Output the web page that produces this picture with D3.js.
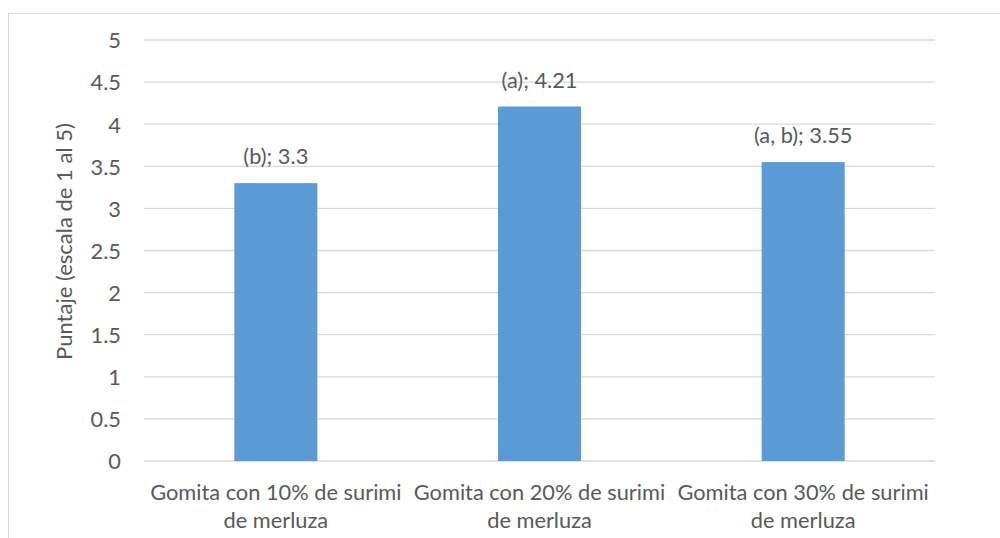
<!DOCTYPE html>
<html><head><meta charset="utf-8">
<script src="https://cdn.jsdelivr.net/npm/d3@7"></script>
<style>body{margin:0;background:#fff}svg{display:block}text{font-family:Lato,"Open Sans",sans-serif;fill:#595959}</style>
</head><body>
<script>
const categories = ["Gomita con 10% de surimi de merluza","Gomita con 20% de surimi de merluza","Gomita con 30% de surimi de merluza"];
const categoryLines = [["Gomita con 10% de surimi","de merluza"],["Gomita con 20% de surimi","de merluza"],["Gomita con 30% de surimi","de merluza"]];
const values = [3.3, 4.21, 3.55];
const letters = ["(b)", "(a)", "(a, b)"];
const yTicks = [0,0.5,1,1.5,2,2.5,3,3.5,4,4.5,5];
const yTitle = "Puntaje (escala de 1 al 5)";

const W=1000,H=538, FS=21.8;
const svg=d3.select("body").append("svg").attr("width",W).attr("height",H);
svg.append("rect").attr("x",8.5).attr("y",13.5).attr("width",1000).attr("height",600).attr("fill","none").attr("stroke","#d9d9d9").attr("stroke-width",1);

const x=d3.scaleBand().domain(categories).range([144,935]).paddingInner(0).paddingOuter(0);
const y=d3.scaleLinear().domain([0,5]).range([461,40]);

const g=svg.append("g");
g.selectAll("line.grid").data(yTicks).enter().append("line")
 .attr("x1",144).attr("x2",935).attr("y1",d=>y(d)).attr("y2",d=>y(d))
 .attr("stroke","#d9d9d9").attr("stroke-width",1.3);

const yAxis=d3.axisLeft(y).tickValues(yTicks).tickSize(0).tickPadding(0).tickFormat(d=>String(d));
const ya=svg.append("g").attr("transform","translate(121,0)").call(yAxis);
ya.select(".domain").remove();
ya.selectAll("text").attr("font-size",FS).attr("fill","#595959").attr("dy","0.36em").style("font-family","Lato");

const bw=x.bandwidth()*0.315;
g.selectAll("rect.bar").data(values).enter().append("rect")
 .attr("x",(d,i)=>x(categories[i])+x.bandwidth()/2-bw/2)
 .attr("width",bw).attr("y",d=>y(d)).attr("height",d=>y(0)-y(d)).attr("fill","#5b9bd5");

g.selectAll("text.lbl").data(values).enter().append("text")
 .attr("x",(d,i)=>x(categories[i])+x.bandwidth()/2).attr("y",d=>y(d)-19)
 .attr("text-anchor","middle").attr("font-size",FS).text((d,i)=>letters[i]+"; "+d);

categories.forEach((c,i)=>{
  const t=svg.append("text").attr("x",x(c)+x.bandwidth()/2).attr("y",500).attr("text-anchor","middle").attr("font-size",FS);
  categoryLines[i].forEach((l,j)=>t.append("tspan").attr("x",x(c)+x.bandwidth()/2).attr("dy",j?28:0).text(l));
});

svg.append("text").attr("transform","translate(72,241.5) rotate(-90)").attr("text-anchor","middle").attr("font-size",22).text(yTitle);
</script>
</body></html>
